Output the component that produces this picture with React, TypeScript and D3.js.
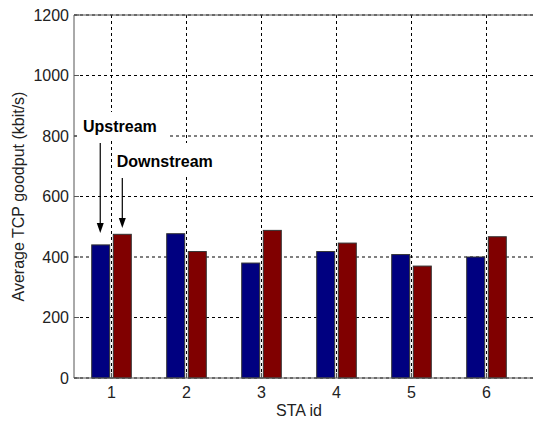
import * as d3 from 'd3';
import React from 'react';

// STA ids and the two goodput series (kbit/s)
const staIds = [1, 2, 3, 4, 5, 6];
const upstream = [440, 477, 380, 418, 408, 400];
const downstream = [475, 418, 488, 446, 370, 467];
const yTicks = [0, 200, 400, 600, 800, 1000, 1200];

const W = 533;
const H = 421;
const FONT = 'Arial, "Liberation Sans", sans-serif';

function App() {
    const x = d3.scaleLinear().domain([0.5, 7.5]).range([74, 599]);   // right side runs off the picture
    const y = d3.scaleLinear().domain([0, 1200]).range([378, 15]);

    const barW = x(0.24) - x(0);
    const off = x(0.144) - x(0);

    const series = [
        { vals: upstream, color: '#000080', dx: -off },
        { vals: downstream, color: '#800000', dx: off },
    ];

    const arrow = (ax: number, v0: number, v1: number) => {
        const px = x(ax);
        const y0 = y(v0);
        const y1 = y(v1);
        return (
            <g key={ax}>
                <line x1={px} x2={px} y1={y0} y2={y1 - 9} stroke="#000" strokeWidth={1.2} />
                <path d={`M${px - 3.5},${y1 - 10} L${px + 3.5},${y1 - 10} L${px},${y1} Z`} fill="#000" />
            </g>
        );
    };

    return (
        <svg width={W} height={H} style={{ position: 'absolute', left: 0, top: 0, background: '#fff', fontFamily: FONT }}>
            {/* grid */}
            {yTicks.map(t => (
                <line key={'h' + t} x1={x(0.5)} x2={x(7.5)} y1={y(t)} y2={y(t)}
                    stroke="#000" strokeWidth={1} strokeDasharray="3,3" />
            ))}
            {staIds.map(s => (
                <line key={'v' + s} x1={x(s)} x2={x(s)} y1={y(0)} y2={y(1200)}
                    stroke="#000" strokeWidth={1} strokeDasharray="3,3" />
            ))}

            {/* bars */}
            {series.map((sr, i) => (
                <g key={i}>
                    {sr.vals.map((v, j) => (
                        <rect key={j}
                            x={x(staIds[j]) + sr.dx - barW / 2}
                            y={y(v)}
                            width={barW}
                            height={y(0) - y(v)}
                            fill={sr.color}
                            stroke="#333" strokeWidth={1} />
                    ))}
                </g>
            ))}

            {/* axes box */}
            <line x1={x(0.5)} x2={x(0.5)} y1={y(0)} y2={y(1200)} stroke="#555" />
            <line x1={x(0.5)} x2={x(7.5)} y1={y(0)} y2={y(0)} stroke="#555" />
            <line x1={x(0.5)} x2={x(7.5)} y1={y(1200)} y2={y(1200)} stroke="#555" />
            {yTicks.map(t => (
                <line key={'yt' + t} x1={x(0.5)} x2={x(0.5) + 5} y1={y(t)} y2={y(t)} stroke="#555" />
            ))}
            {staIds.map(s => (
                <line key={'xt' + s} x1={x(s)} x2={x(s)} y1={y(0)} y2={y(0) - 5} stroke="#555" />
            ))}

            {/* tick labels */}
            {yTicks.map(t => (
                <text key={'yl' + t} x={x(0.5) - 5} y={y(t)} dy="0.35em" textAnchor="end"
                    fontSize={16} fill="#222">{t}</text>
            ))}
            {staIds.map(s => (
                <text key={'xl' + s} x={x(s)} y={y(0) + 20} textAnchor="middle"
                    fontSize={16} fill="#222">{s}</text>
            ))}

            <text x={x(3.5)} y={416} textAnchor="middle" fontSize={16} fill="#222">STA id</text>
            <text transform={`translate(18,${(y(0) + y(1200)) / 2}) rotate(-90)`} dy="0.35em"
                textAnchor="middle" fontSize={16} fill="#222">Average TCP goodput (kbit/s)</text>

            {/* annotations */}
            <rect x={77} y={112} width={93} height={28} fill="#fff" />
            <text x={x(0.62)} y={y(813)} fontSize={16} fontWeight="bold" fill="#000">Upstream</text>
            <rect x={116} y={143} width={103} height={32} fill="#fff" />
            <text x={x(1.07)} y={y(698)} fontSize={16} fontWeight="bold" fill="#000">Downstream</text>
            {arrow(0.85, 777, 479)}
            {arrow(1.144, 661, 496)}
        </svg>
    );
}

export default App;
